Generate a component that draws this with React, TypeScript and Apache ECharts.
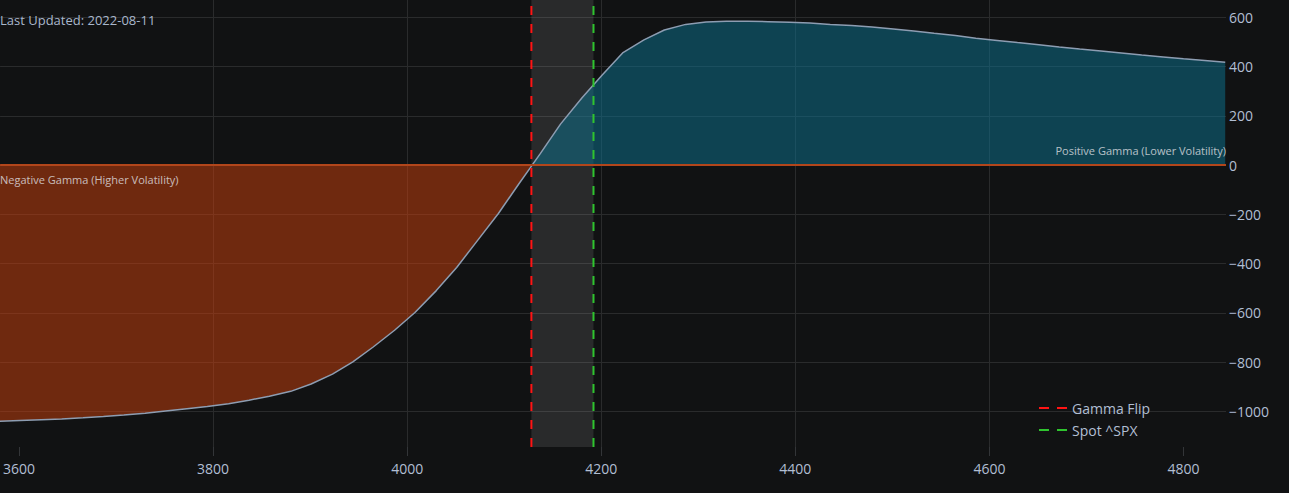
import React, { useEffect, useRef } from "react";
import * as echarts from "echarts";

const strikes = [
  3580, 3601, 3623, 3644, 3666, 3687, 3708, 3730, 3751, 3773,
  3794, 3816, 3837, 3858, 3880, 3901, 3923, 3944, 3965, 3987,
  4008, 4030, 4051, 4072, 4094, 4115, 4137, 4158, 4180, 4201,
  4222, 4244, 4265, 4287, 4308, 4329, 4351, 4372, 4394, 4415,
  4436, 4458, 4479, 4501, 4522, 4543, 4565, 4586, 4608, 4629,
  4651, 4672, 4693, 4715, 4736, 4757, 4779, 4800, 4822, 4843,
];
const gammaExposure = [
  -1040, -1037, -1034, -1031, -1026, -1021, -1015, -1008, -999, -990,
  -981, -969, -955, -939, -919, -889, -849, -799, -739, -671,
  -599, -510, -416, -309, -197, -77, 45, 166, 272, 365,
  455, 508, 548, 571, 581, 584, 584, 582, 580, 577,
  571, 566, 560, 552, 544, 535, 526, 515, 506, 497,
  488, 479, 471, 463, 455, 447, 439, 431, 424, 417,
];
const gammaFlip = 4128;
const spotPrice = 4192;
const xRange = [3580.5, 4843.8];
const yRange = [-1145, 670];
const xTicks = [3600, 3800, 4000, 4200, 4400, 4600, 4800];
const yTicks = [-1000, -800, -600, -400, -200, 0, 200, 400, 600];
const lastUpdated = "2022-08-11";
const spotName = "Spot ^SPX";
const flipName = "Gamma Flip";
const negLabel = "Negative Gamma (Higher Volatility)";
const posLabel = "Positive Gamma (Lower Volatility)";

const FONT = "'Open Sans', 'Noto Sans', sans-serif";
const TEXT = "#b1bfd3";
const DASH_ICON = "path://M0 0h10v2H0z M18 0h10v2H18z";

export default function App() {
  const ref = useRef<HTMLDivElement>(null);

  useEffect(() => {
    if (!ref.current) return;
    const chart = echarts.init(ref.current, undefined, { renderer: "svg" });
    const pts = strikes.map((s, i) => [s, gammaExposure[i]]);
    const negPts = pts.filter((p) => p[0] < gammaFlip).concat([[gammaFlip, 0]]);
    const posPts = [[gammaFlip, 0]].concat(pts.filter((p) => p[0] > gammaFlip));

    chart.setOption({
      animation: false,
      backgroundColor: "#111213",
      textStyle: { fontFamily: FONT },
      grid: { left: 0, right: 63, top: 0, bottom: 46, containLabel: false },
      xAxis: {
        type: "value",
        min: xRange[0],
        max: xRange[1],
        splitNumber: 6,
        axisLine: { show: false, onZero: false },
        axisTick: { show: true, length: 9, lineStyle: { color: "#333538" }, customValues: xTicks },
        axisLabel: {
          color: TEXT,
          fontSize: 14,
          fontFamily: FONT,
          margin: 14,
          customValues: xTicks,
          formatter: (v: number) => String(v),
        },
        splitLine: { show: true, showMinLine: false, showMaxLine: false, lineStyle: { color: "#2a2b2c", width: 1 } },
      },
      yAxis: {
        type: "value",
        position: "right",
        min: yRange[0],
        max: yRange[1],
        splitNumber: 9,
        axisLine: { show: false, onZero: false },
        axisTick: { show: false },
        axisLabel: {
          color: TEXT,
          fontSize: 14,
          fontFamily: FONT,
          margin: 3,
          customValues: yTicks,
          formatter: (v: number) => String(v).replace("-", "\u2212"),
        },
        splitLine: { show: true, showMinLine: false, showMaxLine: false, lineStyle: { color: "#2a2b2c", width: 1 } },
      },
      legend: {
        data: [
          { name: flipName, icon: DASH_ICON },
          { name: spotName, icon: DASH_ICON },
        ],
        orient: "vertical",
        left: 1034,
        top: 396,
        itemWidth: 28,
        itemHeight: 2,
        itemGap: 8,
        textStyle: { color: TEXT, fontSize: 14, fontFamily: FONT },
      },
      graphic: [
        {
          type: "text",
          x: 0,
          y: 20,
          z: 10,
          style: {
            text: "Last Updated: " + lastUpdated,
            fill: "#a9b7cc",
            fontSize: 13,
            fontFamily: FONT,
            verticalAlign: "middle",
          },
        },
        {
          type: "text",
          x: 0,
          y: 179,
          z: 10,
          style: {
            text: negLabel,
            fill: "rgba(225,225,230,0.8)",
            fontSize: 11,
            fontFamily: FONT,
            verticalAlign: "middle",
          },
        },
        {
          type: "text",
          x: 1226,
          y: 150,
          z: 10,
          style: {
            text: posLabel,
            fill: "rgba(225,225,230,0.8)",
            fontSize: 11,
            fontFamily: FONT,
            align: "right",
            verticalAlign: "middle",
          },
        },
      ],
      series: [
        {
          name: "neg",
          type: "line",
          data: negPts,
          symbol: "none",
          lineStyle: { width: 0 },
          areaStyle: { color: "rgba(205,63,11,0.5)", opacity: 1 },
          z: 1,
          silent: true,
          markLine: {
            silent: true,
            symbol: ["none", "none"],
            label: { show: false },
            lineStyle: { color: "#b2461b", width: 2, type: "solid" },
            data: [{ yAxis: 0 }],
          },
        },
        {
          name: "pos",
          type: "line",
          data: posPts,
          symbol: "none",
          lineStyle: { width: 0 },
          areaStyle: { color: "rgba(11,115,146,0.5)", opacity: 1 },
          z: 1,
          silent: true,
        },
        {
          name: "curve",
          type: "line",
          data: pts,
          symbol: "none",
          lineStyle: { color: "#8d9db2", width: 1.5 },
          z: 3,
          silent: true,
        },
        {
          name: flipName,
          type: "line",
          data: [
            [gammaFlip, yRange[0]],
            [gammaFlip, yRange[1]],
          ],
          symbol: "none",
          lineStyle: { color: "#ff1414", width: 2, type: [9, 9] },
          itemStyle: { color: "#ff1414" },
          z: 5,
          markArea: {
            silent: true,
            itemStyle: { color: "rgba(255,255,255,0.1)" },
            data: [[{ xAxis: gammaFlip }, { xAxis: spotPrice }]],
          },
        },
        {
          name: spotName,
          type: "line",
          data: [
            [spotPrice, yRange[0]],
            [spotPrice, yRange[1]],
          ],
          symbol: "none",
          lineStyle: { color: "#2fc42f", width: 2, type: [9, 9] },
          itemStyle: { color: "#2fc42f" },
          z: 5,
        },
      ],
    });
    return () => chart.dispose();
  }, []);

  return (
    <div
      ref={ref}
      style={{ position: "fixed", left: 0, top: 0, width: 1289, height: 493 }}
    />
  );
}
